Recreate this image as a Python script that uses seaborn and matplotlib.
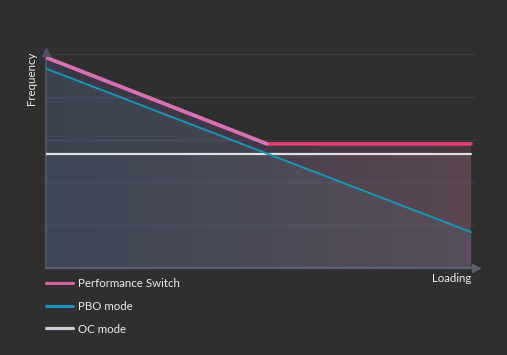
import numpy as np
import matplotlib.pyplot as plt
import seaborn as sns
from matplotlib.colors import LinearSegmentedColormap
from matplotlib.lines import Line2D

# values (x: loading 0..1, y: frequency in grid steps)
load_ps = [0.0, 0.52, 1.0]
freq_ps = [4.92, 2.90, 2.90]
load_pbo = [0.0, 1.0]
freq_pbo = [4.66, 0.84]
load_oc = [0.0, 1.0]
freq_oc = [2.66, 2.66]
series_labels = ["Performance Switch", "PBO mode", "OC mode"]
grid_steps = [1, 2, 3, 4, 5]

bg = "#2f2f2f"
sns.set_style("dark", {"axes.facecolor": bg, "figure.facecolor": bg})
plt.rcParams["font.family"] = ["Lato", "DejaVu Sans"]

fig = plt.figure(figsize=(5.07, 3.55), dpi=100)
ax = fig.add_axes([46 / 507, 87 / 355, 430 / 507, 216 / 355])
ymax = 216 / 42.8


# horizontal gradient clipped to the area under a series
def gradient_fill(x, y, c_left, c_right, z):
    poly = ax.fill_between(x, y, 0, color="none")
    cmap = LinearSegmentedColormap.from_list("g", [c_left, c_right])
    img = ax.imshow(np.linspace(0, 1, 256)[None, :], cmap=cmap, aspect="auto",
                    extent=[0, 1, 0, ymax], zorder=z)
    img.set_clip_path(poly.get_paths()[0], ax.transData)


gradient_fill(load_ps, freq_ps, "#383848", "#4b3a43", 0.5)
gradient_fill(load_oc, freq_oc, "#393b4c", "#5a4650", 0.6)
ax.fill_between(load_pbo, freq_pbo, 0, color="#50858e", alpha=0.15, lw=0, zorder=0.7)

# lines
sns.lineplot(x=load_oc, y=freq_oc, color="#dcdfe4", lw=1.6, zorder=4, ax=ax)
sns.lineplot(x=load_pbo, y=freq_pbo, color="#1896b4", lw=1.4, zorder=5, ax=ax)
sns.lineplot(x=load_ps, y=freq_ps, color="#e63d72", lw=2.6, zorder=6, ax=ax)
sns.lineplot(x=load_ps[:2], y=freq_ps[:2], color="#d274b4", lw=2.6, zorder=7, ax=ax)

ax.set_xlim(0, 430 / 425)
ax.set_ylim(0, ymax)
ax.set_yticks(grid_steps)
ax.set_xticks([])
ax.tick_params(left=False, labelleft=False, bottom=False, labelbottom=False)
ax.grid(axis="y", color="#7080a0", alpha=0.17, lw=1)
ax.grid(axis="x", visible=False)
ax.set_axisbelow(False)
ax.set_xlabel("")
ax.set_ylabel("")

for s in ["top", "right"]:
    ax.spines[s].set_visible(False)
ax.spines["left"].set_color("#4e545c")
ax.spines["left"].set_linewidth(1.6)
ax.spines["bottom"].set_color("#5a6070")
ax.spines["bottom"].set_linewidth(1.6)
ax.plot([0], [1], marker="^", ms=6, color="#4e545c", transform=ax.transAxes, clip_on=False, zorder=8)
ax.plot([1], [0], marker=">", ms=6, color="#5a6070", transform=ax.transAxes, clip_on=False, zorder=8)

fig.text(31 / 507, 1 - 78 / 355, "Frequency", rotation=90, ha="center", va="center",
         color="#ececec", fontsize=8.3)
fig.text(452 / 507, 1 - 279 / 355, "Loading", ha="center", va="center",
         color="#ececec", fontsize=8.3)

handles = [Line2D([], [], color=c, lw=2.3) for c in ["#d862a0", "#1a90c0", "#c8ccd4"]]
fig.legend(handles, series_labels, loc="upper left", bbox_to_anchor=(46 / 507, 1 - 278 / 355),
           frameon=False, fontsize=8.3, labelcolor="#ececec", handlelength=2.3,
           handletextpad=0.45, labelspacing=1.02, borderpad=0, borderaxespad=0)

fig.savefig("out.png", dpi=100, facecolor=bg)
